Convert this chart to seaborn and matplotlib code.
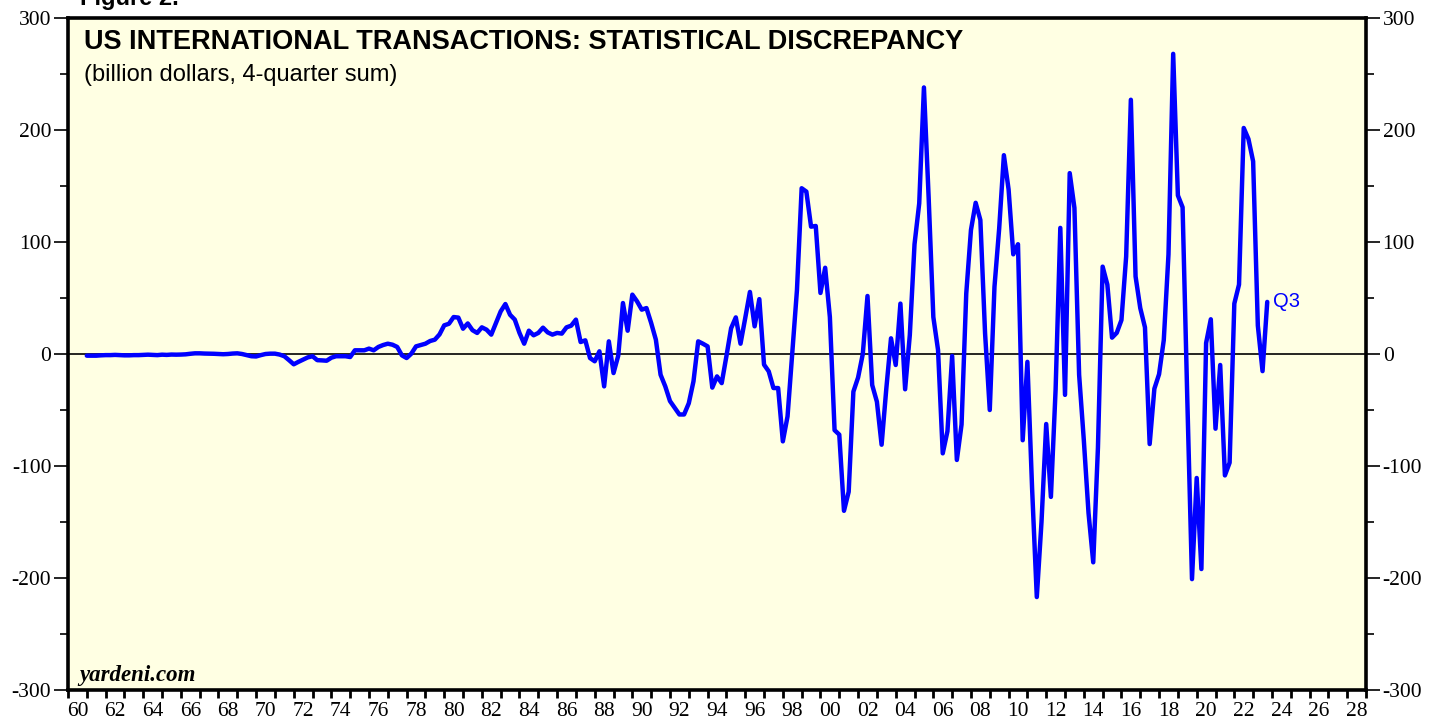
import matplotlib
matplotlib.use("Agg")
import matplotlib.pyplot as plt
import numpy as np
import pandas as pd
import seaborn as sns
from matplotlib.ticker import MultipleLocator, FixedLocator, FixedFormatter

sns.set_style("ticks")
plt.rcParams["font.family"] = ["Liberation Serif", "DejaVu Serif"]
plt.rcParams["axes.unicode_minus"] = False
plt.rcParams["text.color"] = "black"
plt.rcParams["xtick.color"] = "black"
plt.rcParams["ytick.color"] = "black"

# quarterly, 4-quarter sum, billion dollars; first quarter 1960Q4, last 2023Q3
first_quarter = "1960Q4"
last_quarter = "2023Q3"
discrepancy = [
    -1.5,
    -1.5, -1.5, -1.2, -1.0,      # 1961
    -1.0, -0.8, -1.0, -1.2,      # 1962
    -1.2, -1.0, -1.0, -0.8,      # 1963
    -0.6, -0.8, -1.0, -0.6,      # 1964
    -0.8, -0.5, -0.6, -0.5,      # 1965
    -0.3, 0.2, 0.6, 0.6,         # 1966
    0.4, 0.3, 0.2, 0.0,          # 1967
    -0.2, 0.0, 0.4, 0.6,         # 1968
    0.0, -1.0, -2.0, -2.2,       # 1969
    -1.0, 0.0, 0.3, 0.3,         # 1970
    -0.5, -2.0, -5.5, -9.2,      # 1971
    -7.0, -5.0, -3.0, -2.0,      # 1972
    -5.5, -5.7, -6.0, -3.3,      # 1973
    -2.0, -2.0, -2.0, -2.7,      # 1974
    3.3, 3.3, 3.3, 4.8,          # 1975
    3.3, 6.3, 8.0, 9.2,          # 1976
    8.3, 6.3, -1.2, -3.6,        # 1977
    0.3, 6.8, 8.0, 9.2,          # 1978
    11.6, 12.8, 17.5, 25.6,      # 1979
    27.0, 33.0, 32.5, 22.6,      # 1980
    27.3, 21.3, 18.8, 23.8,      # 1981
    21.7, 17.3, 27.7, 38.0,      # 1982
    44.6, 35.0, 30.7, 18.8,      # 1983
    9.2, 20.8, 16.7, 18.8,       # 1984
    23.5, 19.3, 17.3, 18.8,      # 1985
    18.2, 23.8, 25.3, 30.7,      # 1986
    10.7, 12.2, -3.6, -6.5,      # 1987
    2.4, -28.9, 11.3, -17.0,     # 1988
    -1.5, 45.5, 20.8, 53.0,      # 1989
    47.0, 39.6, 41.0, 27.7,      # 1990
    12.8, -18.5, -28.9, -42.0,   # 1991
    -48.0, -54.0, -54.0, -44.0,  # 1992
    -24.4, 11.3, 9.2, 6.8,       # 1993
    -30.0, -20.0, -26.0, -2.0,   # 1994
    23.0, 32.7, 9.2, 32.0,       # 1995
    55.4, 24.7, 49.0, -9.5,      # 1996
    -15.5, -30.4, -30.4, -78.0,  # 1997
    -55.7, 0.0, 57.0, 148.0,     # 1998
    145.0, 113.7, 114.3, 54.5,   # 1999
    77.0, 33.0, -68.0, -72.0,    # 2000
    -140.0, -123.0, -33.6, -21.0,  # 2001
    0.0, 51.8, -27.7, -42.6,     # 2002
    -81.0, -31.0, 14.0, -9.8,    # 2003
    45.0, -31.5, 17.0, 98.0,     # 2004
    134.5, 238.0, 140.0, 33.0,   # 2005
    3.6, -88.7, -69.0, -1.8,     # 2006
    -94.6, -63.0, 54.0, 110.7,   # 2007
    135.0, 119.6, 18.5, -50.0,   # 2008
    60.0, 112.0, 177.5, 147.0,   # 2009
    89.0, 98.0, -77.0, -7.0,     # 2010
    -120.0, -217.0, -150.0, -62.5,  # 2011
    -127.6, -31.6, 112.6, -36.5,    # 2012
    161.5, 130.5, -18.6, -77.0,     # 2013
    -142.0, -186.0, -83.7, 78.0,    # 2014
    62.0, 14.6, 18.9, 30.3,      # 2015
    87.0, 227.0, 69.3, 41.0,     # 2016
    23.8, -80.4, -31.0, -18.0,   # 2017
    12.4, 88.9, 268.0, 141.6,    # 2018
    131.0, -40.0, -201.0, -110.7,   # 2019
    -192.0, 9.8, 31.0, -66.7,    # 2020
    -9.8, -108.4, -97.0, 45.0,   # 2021
    62.0, 201.8, 192.0, 172.0,   # 2022
    25.4, -15.3, 46.5,           # 2023
]
year_labels = ["60", "62", "64", "66", "68", "70", "72", "74", "76", "78",
               "80", "82", "84", "86", "88", "90", "92", "94", "96", "98",
               "00", "02", "04", "06", "08", "10", "12", "14", "16", "18",
               "20", "22", "24", "26", "28"]
y_ticks = [-300, -200, -100, 0, 100, 200, 300]

quarters = pd.period_range(first_quarter, last_quarter, freq="Q")
df = pd.DataFrame({
    "date": quarters.year + quarters.quarter / 4.0,
    "value": discrepancy,
})

sans = ["Liberation Sans", "DejaVu Sans"]

fig = plt.figure(figsize=(14.4, 7.21), dpi=100)
ax = fig.add_axes([68 / 1440, 31 / 721, 1298 / 1440, 672 / 721])
ax.set_facecolor("#FFFFE3")

ax.axhline(0, color="black", lw=1.2, zorder=1)
sns.lineplot(data=df, x="date", y="value", ax=ax, color="#0000FF",
             lw=3.2, zorder=3)

ax.set_xlim(1960, 2029)
ax.set_ylim(-300, 300)
ax.set_xlabel("")
ax.set_ylabel("")

# y axis, both sides
ax.yaxis.set_major_locator(FixedLocator(y_ticks))
ax.yaxis.set_minor_locator(MultipleLocator(50))
ax.tick_params(axis="y", which="both", left=True, right=True,
               labelleft=True, labelright=True, direction="out",
               colors="black", labelsize=15.5)
ax.tick_params(axis="y", which="major", length=10, width=1.2, pad=2)
ax.tick_params(axis="y", which="minor", length=6, width=1.2)

# x axis: ticks at year boundaries, labels centred in the year
ax.xaxis.set_major_locator(MultipleLocator(1))
ax.xaxis.set_major_formatter(FixedFormatter([]))
label_pos = [1960.5 + 2 * i for i in range(len(year_labels))]
ax.xaxis.set_minor_locator(FixedLocator(label_pos))
ax.xaxis.set_minor_formatter(FixedFormatter(year_labels))
ax.tick_params(axis="x", which="major", length=6, width=2, direction="out",
               bottom=True, labelbottom=False, colors="black")
ax.tick_params(axis="x", which="minor", length=0, pad=9, labelsize=15.5,
               colors="black")

for side in ["left", "right", "top", "bottom"]:
    ax.spines[side].set_visible(True)
    ax.spines[side].set_color("black")
    ax.spines[side].set_linewidth(2.6)

ax.text(0.012, 0.983, "US INTERNATIONAL TRANSACTIONS: STATISTICAL DISCREPANCY",
        transform=ax.transAxes, ha="left", va="top", fontsize=19.5,
        fontweight="bold", family=sans, color="black")
ax.text(0.012, 0.932, "(billion dollars, 4-quarter sum)",
        transform=ax.transAxes, ha="left", va="top", fontsize=17,
        family=sans, color="black")
ax.text(0.009, 0.006, "yardeni.com", transform=ax.transAxes, ha="left",
        va="bottom", fontsize=16.5, fontweight="bold", fontstyle="italic",
        color="black")
last = df.iloc[-1]
ax.annotate("Q3", xy=(last["date"], last["value"]), xytext=(4, 0),
            textcoords="offset points", ha="left", va="center",
            color="#0000FF", fontsize=14.5, family=sans)
fig.text(80 / 1440, 1 + 1 / 721, "Figure 2.", ha="left", va="center",
         fontsize=17, fontweight="bold", family=sans, color="black")

fig.savefig("out.png", dpi=100, facecolor="white")
